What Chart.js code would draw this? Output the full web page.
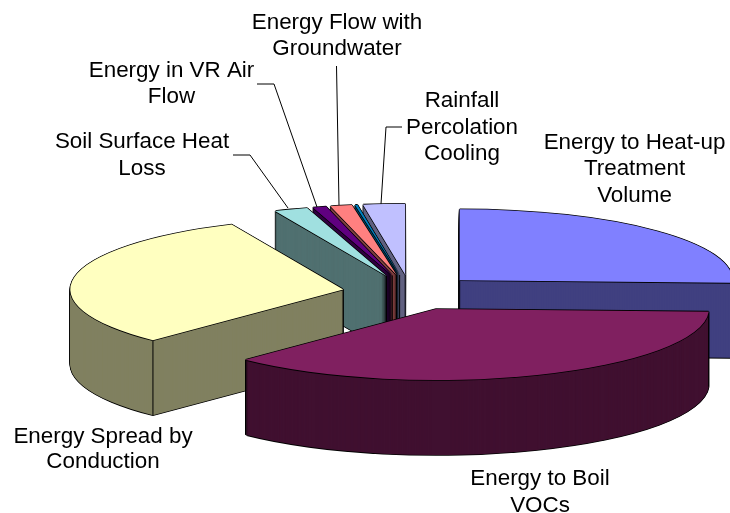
<!DOCTYPE html>
<html>
<head>
<meta charset="utf-8">
<style>
  html, body { margin: 0; padding: 0; background: #fff; }
  canvas { display: block; }
</style>
<script src="https://cdn.jsdelivr.net/npm/chart.js@4"></script>
</head>
<body>
<canvas id="chart" width="730" height="513"></canvas>
<script>
// Share of the energy balance, percent
const categories = [
  ['Energy to Heat-up', 'Treatment', 'Volume'],
  ['Energy to Boil', 'VOCs'],
  ['Energy Spread by', 'Conduction'],
  ['Soil Surface Heat', 'Loss'],
  ['Energy in VR Air', 'Flow'],
  ['Energy Flow with', 'Groundwater'],
  [],
  ['Rainfall', 'Percolation', 'Cooling']
];
const shares = [25.6, 36.68, 31.02, 2.0, 0.8, 1.28, 0.15, 2.47];
const topColors = ['#8080ff', '#802060', '#ffffc0', '#a0e0e0', '#600080', '#ff8080', '#0080c0', '#c0c0ff'];
const sideColors = ['#404080', '#401030', '#808060', '#507070', '#300040', '#804040', '#004060', '#606080'];

// Where the labels sit: centre x, then the y of each line's middle
const labelSpots = [
  { x: 634.5, y: [143, 169, 196] },
  { x: 540, y: [479, 506] },
  { x: 103, y: [437, 462] },
  { x: 142, y: [142, 169] },
  { x: 171.5, y: [71, 97] },
  { x: 337, y: [23, 49] },
  { x: 0, y: [] },
  { x: 462, y: [101, 128, 154] }
];
const leaderLines = [
  [[233, 155], [250, 155], [288, 208]],
  [[257, 84], [274, 84], [317, 207]],
  [[336.5, 66], [339, 205]],
  [[402, 127], [386, 127], [381, 204]]
];

// 3D look of the pie
const pie3d = { cx: 410.5, cy: 292.5, rx: 273, ry: 71, depth: 75, explode: 0.25, edge: 0.8 };

function arcOptions(color) {
  return {
    backgroundColor: color, borderColor: color, borderWidth: 0,
    offset: 0, spacing: 0, circular: true, borderAlign: 'center',
    borderDash: [], borderDashOffset: 0, borderJoinStyle: 'round'
  };
}

function drawArcAt(ctx, arc, color, dx, dy) {
  const mid = (arc.startAngle + arc.endAngle) / 2;
  ctx.save();
  ctx.translate(
    pie3d.cx + Math.cos(mid) * pie3d.explode * pie3d.rx + dx,
    pie3d.cy + Math.sin(mid) * pie3d.explode * pie3d.ry + dy
  );
  ctx.scale(pie3d.rx / arc.outerRadius, pie3d.ry / arc.outerRadius);
  ctx.translate(-arc.x, -arc.y);
  arc.options = arcOptions(color);
  arc.draw(ctx);
  ctx.restore();
}

function drawSlice(ctx, arc, i) {
  const e = pie3d.edge;
  const around = [[-e, 0], [e, 0], [0, -e], [0, e]];

  // side walls: black copies first so a thin outline stays round the fill
  for (let d = pie3d.depth; d > 0; d--) {
    around.forEach(o => drawArcAt(ctx, arc, '#000', o[0], d + o[1]));
  }
  for (let d = pie3d.depth; d > 0; d--) {
    drawArcAt(ctx, arc, sideColors[i], 0, d);
  }

  // vertical edges: apex of the back slices, rim corners on the front half
  const mid = (arc.startAngle + arc.endAngle) / 2;
  const ox = pie3d.cx + Math.cos(mid) * pie3d.explode * pie3d.rx;
  const oy = pie3d.cy + Math.sin(mid) * pie3d.explode * pie3d.ry;
  const corners = [];
  if (Math.sin(mid) < 0) corners.push([ox, oy]);
  [arc.startAngle, arc.endAngle].forEach(a => {
    if (Math.sin(a) > 0) corners.push([ox + Math.cos(a) * pie3d.rx, oy + Math.sin(a) * pie3d.ry]);
  });
  ctx.strokeStyle = '#000';
  ctx.lineWidth = 1;
  corners.forEach(c => {
    ctx.beginPath();
    ctx.moveTo(c[0], c[1]);
    ctx.lineTo(c[0], c[1] + pie3d.depth);
    ctx.stroke();
  });

  // top face
  around.forEach(o => drawArcAt(ctx, arc, '#000', o[0], o[1]));
  drawArcAt(ctx, arc, topColors[i], 0, 0);
}

const pie3dPlugin = {
  id: 'pie3d',
  beforeDatasetsDraw(chart) {
    const ctx = chart.ctx;
    const arcs = chart.getDatasetMeta(0).data;
    // paint from the back of the pie to the front
    const order = arcs.map((arc, i) => i).sort((a, b) => {
      const midA = (arcs[a].startAngle + arcs[a].endAngle) / 2;
      const midB = (arcs[b].startAngle + arcs[b].endAngle) / 2;
      return Math.sin(midA) - Math.sin(midB);
    });
    order.forEach(i => drawSlice(ctx, arcs[i], i));
    return false;
  },
  afterDraw(chart) {
    const ctx = chart.ctx;
    ctx.save();
    ctx.strokeStyle = '#000';
    ctx.lineWidth = 1;
    leaderLines.forEach(line => {
      ctx.beginPath();
      line.forEach((p, i) => i ? ctx.lineTo(p[0], p[1]) : ctx.moveTo(p[0], p[1]));
      ctx.stroke();
    });
    ctx.fillStyle = '#000';
    ctx.font = '22.4px "Liberation Sans"';
    ctx.textAlign = 'center';
    ctx.textBaseline = 'middle';
    categories.forEach((lines, i) => {
      lines.forEach((text, k) => ctx.fillText(text, labelSpots[i].x, labelSpots[i].y[k]));
    });
    ctx.restore();
  }
};

new Chart(document.getElementById('chart'), {
  type: 'pie',
  data: {
    labels: categories,
    datasets: [{ data: shares, backgroundColor: topColors, borderWidth: 0 }]
  },
  options: {
    responsive: false,
    animation: false,
    plugins: { legend: { display: false }, tooltip: { enabled: false } }
  },
  plugins: [pie3dPlugin]
});
</script>
</body>
</html>
